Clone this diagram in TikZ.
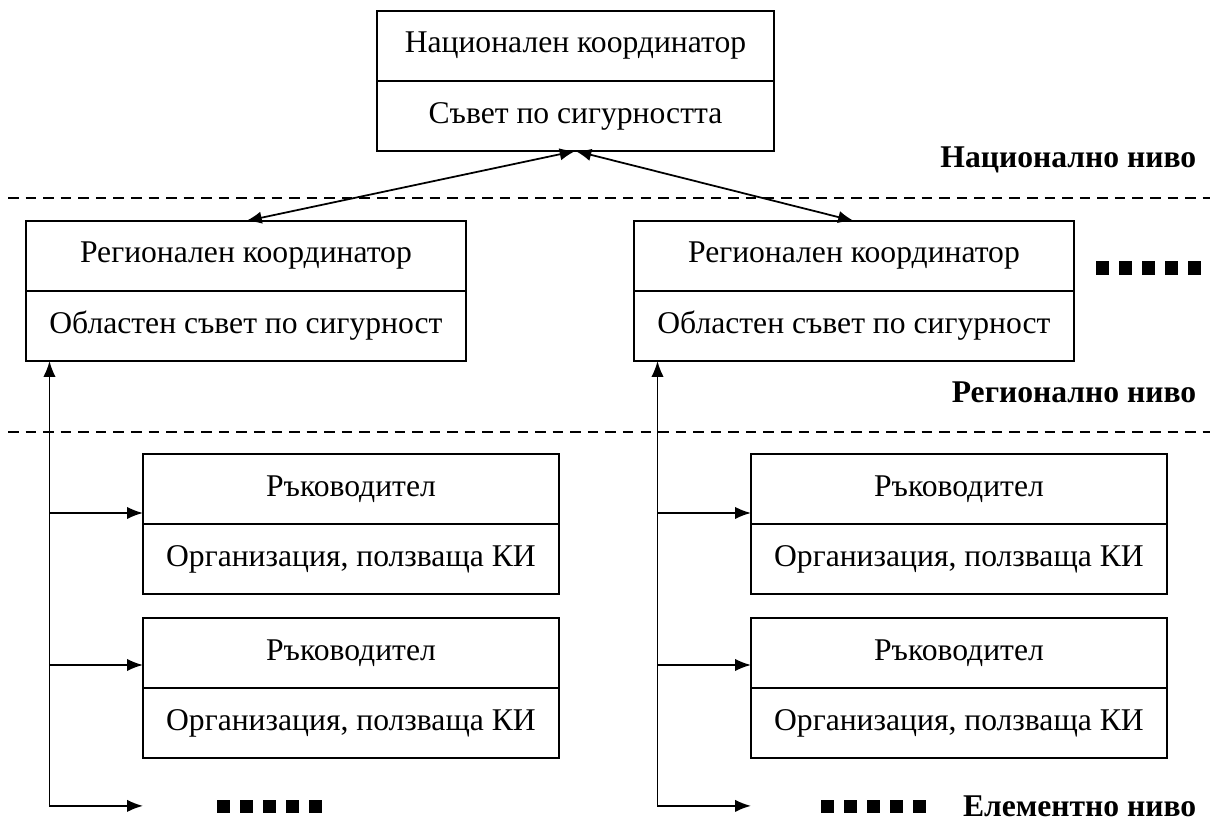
\documentclass[tikz,border=0pt]{standalone}
\usepackage{fontspec}
\setmainfont{Liberation Serif}
\usetikzlibrary{positioning, arrows.meta}

% five small squares: left end, middle height
\newcommand{\sqrow}[2]{%
  \foreach \k in {0, ..., 4} {
    \fill (#1+23*\k, #2-6.5) rectangle ++(13,13);
  }
}

\tikzset{
  cell/.style={draw, minimum height=1.4cm, inner sep=0pt, outer sep=0pt, anchor=north west},
  natcell/.style={cell, minimum width=7.94cm},
  regcell/.style={cell, minimum width=8.8cm},
  orgcell/.style={cell, minimum width=8.32cm},
  lvltext/.style={anchor=east, font=\fontsize{18}{21}\selectfont\bfseries},
  lvlline/.style={dash pattern=on 6pt off 4pt},
}

\begin{document}
\begin{tikzpicture}[x=0.02cm, y=-0.02cm, >={Latex[length=9pt,width=7pt]}, line width=1pt,
    every node/.style={font=\fontsize{18}{21}\selectfont}]
  \useasboundingbox (0,0) rectangle (1210,824);

  % national level
  \node[natcell] (nat) at (377,11) {Национален координатор};
  \node[natcell, below=0pt of nat] (natb) {Съвет по сигурността};

  % regional level
  \foreach \s/\x in {l/26, r/634} {
    \node[regcell] (\s reg) at (\x,221) {Регионален координатор};
    \node[regcell, below=0pt of \s reg] (\s regb) {Областен съвет по сигурност};
    \draw[<->] (\s reg.north) -- (natb.south);
  }

  % element level
  \foreach \s/\x in {l/143, r/751} {
    \foreach \n/\y in {1/454, 2/618} {
      \node[orgcell] (\s org\n) at (\x,\y) {Ръководител};
      \node[orgcell, below=0pt of \s org\n] (\s org\n b) {Организация, ползваща КИ};
    }
  }

  % links down from the regions
  \foreach \s in {l, r} {
    \coordinate (\s bus) at ([xshift=0.47cm]\s regb.south west);
    \coordinate (\s end) at ([yshift=-8.9cm]\s bus);
    \draw[<->] (\s bus) |- (\s end -| \s org1.west);
    \foreach \n/\d in {1/0.22, 2/0.46} {
      \coordinate (\s hook\n) at ([yshift=\d cm]\s org\n.south west);
      \draw[->] (\s bus |- \s hook\n) -- (\s hook\n);
    }
  }

  \draw[lvlline] (8,198) -- (1210,198);
  \draw[lvlline] (8,432) -- (1210,432);

  \sqrow{1096}{268}
  \sqrow{217}{806}
  \sqrow{821}{806}

  \node[lvltext] (natlvl) at (1203,160) {Национално ниво};
  \node[lvltext] (reglvl) at (1203,392) {Регионално ниво};
  \node[lvltext] (elmlvl) at (1203,806) {Елементно ниво};
\end{tikzpicture}
\end{document}
